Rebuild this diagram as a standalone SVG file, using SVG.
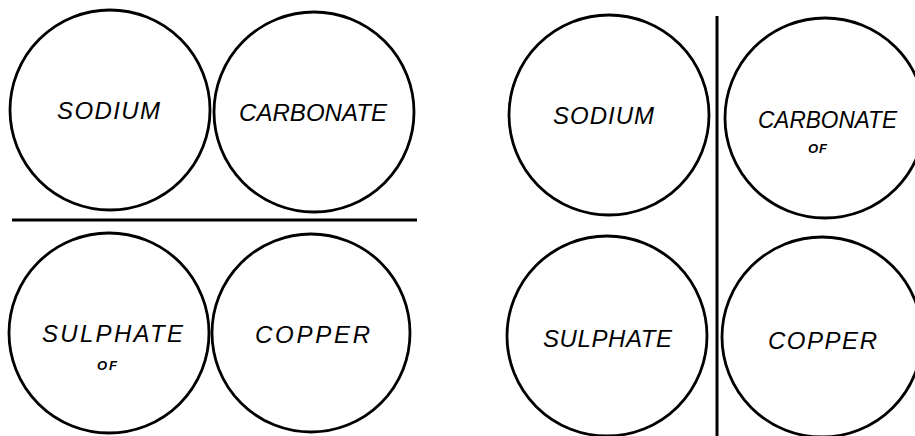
<svg xmlns="http://www.w3.org/2000/svg" width="915" height="436" viewBox="0 0 915 436">
<style>
.c{fill:none;stroke:#000;stroke-width:2.8}
.d{stroke:#000;stroke-width:3;fill:none}
.t{font-family:"Liberation Sans",Arial,sans-serif;font-style:italic;font-size:24px;fill:#000}
.s{font-family:"Liberation Sans",Arial,sans-serif;font-style:italic;font-weight:bold;font-size:13px;fill:#000}
</style>
<rect width="915" height="436" fill="#fff"/>
<g id="connectors">
<line class="d" x1="12" y1="220" x2="417" y2="220"/>
<line class="d" x1="717" y1="16" x2="717" y2="436"/>
</g>
<g id="l-sodium"><circle class="c" cx="110" cy="110" r="100"/><text class="t" x="57" y="119" textLength="103" lengthAdjust="spacing">SODIUM</text></g>
<g id="l-carbonate"><circle class="c" cx="314" cy="112" r="100"/><text class="t" x="239" y="121" textLength="148" lengthAdjust="spacing">CARBONATE</text></g>
<g id="l-sulphate"><circle class="c" cx="109" cy="333" r="100"/><text class="t" x="42" y="342" textLength="141" lengthAdjust="spacing">SULPHATE</text><text class="s" x="97" y="370" textLength="20" lengthAdjust="spacing">OF</text></g>
<g id="l-copper"><circle class="c" cx="311" cy="333" r="99"/><text class="t" x="255" y="343" textLength="115" lengthAdjust="spacing">COPPER</text></g>
<g id="r-sodium"><circle class="c" cx="609" cy="115" r="100"/><text class="t" x="553" y="124" textLength="101" lengthAdjust="spacing">SODIUM</text></g>
<g id="r-carbonate"><circle class="c" cx="825" cy="118" r="100"/><text class="t" x="758" y="128" textLength="139" lengthAdjust="spacingAndGlyphs">CARBONATE</text><text class="s" x="808" y="153" textLength="19" lengthAdjust="spacing">OF</text></g>
<g id="r-sulphate"><circle class="c" cx="607" cy="336" r="100"/><text class="t" x="543" y="347" textLength="129" lengthAdjust="spacing">SULPHATE</text></g>
<g id="r-copper"><circle class="c" cx="822" cy="337" r="100"/><text class="t" x="768" y="349" textLength="109" lengthAdjust="spacing">COPPER</text></g>
</svg>
